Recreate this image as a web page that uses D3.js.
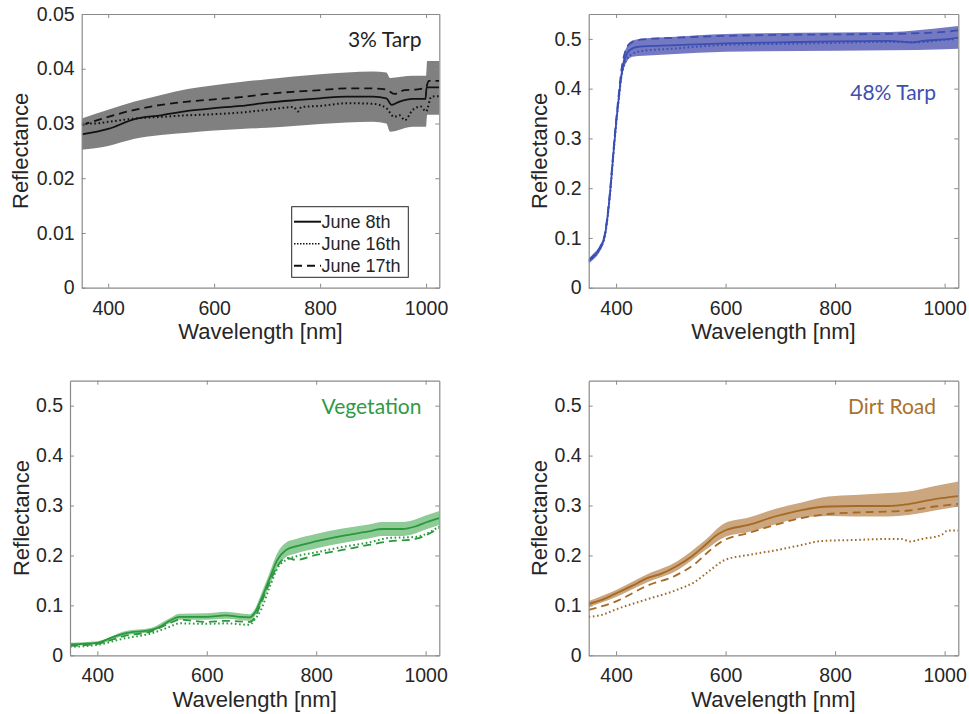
<!DOCTYPE html>
<html>
<head>
<meta charset="utf-8">
<script src="https://cdn.jsdelivr.net/npm/d3@7"></script>
<style>
  body { margin: 0; background: #fff; }
  svg { display: block; }
</style>
</head>
<body>
<svg width="969" height="714"></svg>
<script>
// ---- data: [wavelength nm, reflectance] ----
const tarp3Jun8 = [[350,.0280],[400,.0290],[450,.0308],[500,.0315],[550,.0323],[600,.0328],[650,.0332],[700,.0338],[760,.0343],[800,.0346],[850,.0349],[900,.0349],[925,.0346],[935,.0334],[950,.0340],[975,.0345],[999,.0345],[1001,.0366],[1025,.0366]];
const tarp3Jun16 = [[350,.0300],[375,.0300],[400,.0303],[450,.0309],[500,.0312],[550,.0315],[600,.0317],[650,.0320],[700,.0325],[750,.0330],[758,.0322],[765,.0330],[800,.0332],[850,.0337],[900,.0336],[925,.0328],[940,.0312],[950,.0315],[960,.0306],[975,.0325],[990,.0331],[1000,.0322],[1010,.0349],[1025,.0350]];
const tarp3Jun17 = [[350,.0297],[400,.0312],[450,.0325],[500,.0334],[550,.0340],[600,.0344],[650,.0348],[700,.0354],[750,.0358],[800,.0361],[850,.0364],[900,.0364],[925,.0362],[940,.0354],[960,.0361],[980,.0362],[1000,.0366],[1005,.0378],[1025,.0378]];
// [wavelength, lower, upper]
const tarp3Band = [[350,.0252,.0309],[400,.0259,.0325],[450,.0272,.0340],[500,.0279,.0352],[550,.0283,.0363],[600,.0287,.0370],[650,.0290,.0376],[700,.0292,.0381],[800,.0299,.0390],[900,.0303,.0395],[925,.0300,.0393],[932,.0285,.0383],[975,.0294,.0387],[1000,.0294,.0387],[1002,.0316,.0414],[1025,.0316,.0414]];

const tarp48Jun8 = [[350,.054],[360,.064],[370,.078],[380,.108],[385,.148],[390,.202],[395,.268],[400,.329],[405,.382],[410,.429],[415,.456],[420,.471],[430,.481],[440,.484],[450,.485],[500,.487],[600,.491],[700,.493],[800,.495],[900,.496],[940,.493],[960,.496],[1000,.499],[1025,.502]];
const tarp48Jun16 = [[350,.053],[360,.063],[370,.077],[380,.106],[385,.146],[390,.200],[395,.266],[400,.327],[405,.380],[410,.425],[415,.448],[420,.460],[430,.470],[450,.476],[500,.480],[600,.488],[700,.490],[800,.492],[900,.494],[950,.493],[1000,.498],[1025,.500]];
const tarp48Jun17 = [[350,.055],[360,.066],[370,.080],[380,.111],[385,.152],[390,.207],[395,.274],[400,.336],[405,.390],[410,.440],[415,.468],[420,.484],[430,.494],[450,.499],[500,.502],[600,.506],[700,.508],[800,.509],[900,.510],[1000,.514],[1025,.517]];
const tarp48Band = [[350,.049,.059],[360,.058,.070],[370,.072,.084],[380,.101,.115],[385,.140,.156],[390,.194,.210],[395,.260,.276],[400,.320,.338],[405,.372,.392],[410,.418,.440],[415,.443,.470],[420,.455,.485],[430,.464,.497],[450,.466,.501],[500,.469,.504],[600,.474,.510],[800,.476,.513],[900,.477,.514],[1000,.479,.523],[1025,.480,.526]];

const vegJun8 = [[350,.022],[400,.025],[429,.037],[450,.044],[499,.051],[514,.057],[532,.069],[550,.077],[599,.077],[635,.080],[660,.077],[678,.076],[687,.084],[699,.111],[714,.151],[729,.191],[745,.211],[763,.218],[799,.228],[848,.239],[896,.248],[921,.253],[957,.253],[981,.258],[1000,.266],[1025,.275]];
const vegJun16 = [[350,.017],[400,.021],[450,.034],[499,.044],[532,.057],[550,.064],[599,.063],[635,.064],[678,.061],[687,.071],[699,.091],[714,.134],[729,.174],[745,.191],[763,.198],[799,.206],[848,.217],[896,.226],[933,.235],[981,.237],[1025,.258]];
const vegJun17 = [[350,.019],[400,.023],[450,.039],[499,.048],[532,.064],[550,.071],[599,.067],[635,.069],[678,.067],[687,.074],[699,.104],[714,.144],[729,.178],[745,.195],[763,.191],[799,.201],[848,.211],[896,.221],[933,.228],[981,.233],[1025,.255]];
const vegBand = [[350,.019,.025],[400,.022,.028],[450,.040,.048],[499,.047,.055],[532,.064,.074],[550,.071,.083],[599,.071,.084],[635,.073,.087],[678,.069,.082],[687,.077,.091],[699,.100,.122],[714,.138,.163],[729,.176,.205],[745,.197,.226],[763,.204,.233],[799,.214,.243],[848,.225,.254],[896,.234,.262],[921,.239,.267],[957,.239,.267],[981,.244,.272],[1000,.252,.280],[1025,.261,.289]];

const roadJun8 = [[350,.103],[374,.111],[400,.124],[429,.139],[456,.154],[484,.164],[511,.179],[538,.198],[563,.221],[584,.241],[599,.250],[642,.261],[690,.278],[739,.291],[788,.298],[836,.299],[897,.299],[934,.303],[982,.313],[1025,.319]];
const roadJun16 = [[350,.077],[374,.081],[400,.092],[456,.112],[511,.131],[545,.148],[569,.168],[599,.191],[642,.201],[690,.210],[739,.221],[776,.229],[836,.231],[897,.233],[921,.233],[937,.228],[958,.233],[994,.241],[1006,.250],[1025,.250]];
const roadJun17 = [[350,.091],[400,.108],[456,.139],[511,.161],[545,.184],[569,.208],[593,.228],[642,.245],[690,.261],[739,.275],[788,.283],[836,.286],[897,.288],[934,.290],[982,.298],[1025,.303]];
const roadBand = [[350,.097,.109],[400,.117,.131],[456,.146,.162],[511,.170,.188],[563,.211,.231],[599,.237,.265],[642,.247,.276],[690,.262,.293],[739,.276,.306],[788,.279,.318],[836,.278,.321],[897,.278,.325],[934,.281,.328],[982,.290,.339],[1025,.298,.348]];

const xTicks = [400, 600, 800, 1000];
const yTicksSmall = [0, 0.01, 0.02, 0.03, 0.04, 0.05];
const yTicksLarge = [0, 0.1, 0.2, 0.3, 0.4, 0.5];
const legendLabels = ["June 8th", "June 16th", "June 17th"];

// ---- layout ----
const svg = d3.select("svg");
const tickFont = "'Liberation Sans', Arial, Helvetica, sans-serif";
const titleFont = "Lato, 'Open Sans', sans-serif";

const panels = [
  { box: [81.7, 14, 439.3, 287.7], yDomain: [0, 0.05], yTicks: yTicksSmall, fmt: d => d === 0 ? "0" : d3.format(".2f")(d),
    series: [tarp3Jun8, tarp3Jun16, tarp3Jun17], band: tarp3Band, line: "#111", fill: "#808080",
    title: "3% Tarp", titleColor: "#222", titleX: 421.5, titleY: 47, ylabX: 27.5 },
  { box: [588.7, 14, 958.3, 287.7], yDomain: [0, 0.55], yTicks: yTicksLarge, fmt: d => d === 0 ? "0" : d3.format(".1f")(d),
    series: [tarp48Jun8, tarp48Jun16, tarp48Jun17], band: tarp48Band, line: "#3a4fb3", fill: "#7579c1",
    title: "48% Tarp", titleColor: "#3c50b1", titleX: 936, titleY: 100, ylabX: 547 },
  { box: [70, 380.7, 439.3, 655.3], yDomain: [0, 0.55], yTicks: yTicksLarge, fmt: d => d === 0 ? "0" : d3.format(".1f")(d),
    series: [vegJun8, vegJun16, vegJun17], band: vegBand, line: "#2a983d", fill: "#8fcb97",
    title: "Vegetation", titleColor: "#2f9a46", titleX: 421.5, titleY: 414, ylabX: 29 },
  { box: [588.7, 380.7, 958.3, 655.3], yDomain: [0, 0.55], yTicks: yTicksLarge, fmt: d => d === 0 ? "0" : d3.format(".1f")(d),
    series: [roadJun8, roadJun16, roadJun17], band: roadBand, line: "#a56a25", fill: "#cba67e",
    title: "Dirt Road", titleColor: "#a8722f", titleX: 936, titleY: 414, ylabX: 547 }
];

const dashes = [null, "1.6,2.6", "8,5"];

panels.forEach((p, i) => {
  const [x0, y0, x1, y1] = p.box;
  const x = d3.scaleLinear().domain([350, 1025]).range([x0, x1]);
  const y = d3.scaleLinear().domain(p.yDomain).range([y1, y0]);
  const g = svg.append("g");
  const clipId = "clip" + i;
  svg.append("clipPath").attr("id", clipId)
    .append("rect").attr("x", x0).attr("y", y0).attr("width", x1 - x0).attr("height", y1 - y0);

  const plot = g.append("g").attr("clip-path", `url(#${clipId})`);

  // std band
  plot.append("path")
    .datum(p.band)
    .attr("fill", p.fill)
    .attr("d", d3.area().curve(d3.curveMonotoneX).x(d => x(d[0])).y0(d => y(d[1])).y1(d => y(d[2])));

  // the three dates
  p.series.forEach((s, k) => {
    plot.append("path")
      .datum(s)
      .attr("fill", "none")
      .attr("stroke", p.line)
      .attr("stroke-width", k === 1 ? 2 : 1.8)
      .attr("stroke-dasharray", dashes[k])
      .attr("d", d3.line().curve(d3.curveMonotoneX).x(d => x(d[0])).y(d => y(d[1])));
  });

  // axes, MATLAB style box with inward ticks
  const axisColor = "#8a8a8a";
  const bottom = g.append("g").attr("transform", `translate(0,${y1})`)
    .call(d3.axisBottom(x).tickValues(xTicks).tickSizeInner(-4).tickSizeOuter(0).tickPadding(13).tickFormat(d3.format("d")));
  const top = g.append("g").attr("transform", `translate(0,${y0})`)
    .call(d3.axisTop(x).tickValues(xTicks).tickSizeInner(-4).tickSizeOuter(0).tickFormat(""));
  const left = g.append("g").attr("transform", `translate(${x0},0)`)
    .call(d3.axisLeft(y).tickValues(p.yTicks).tickSizeInner(-4).tickSizeOuter(0).tickPadding(7).tickFormat(p.fmt));
  const right = g.append("g").attr("transform", `translate(${x1},0)`)
    .call(d3.axisRight(y).tickValues(p.yTicks).tickSizeInner(-4).tickSizeOuter(0).tickFormat(""));

  [bottom, top, left, right].forEach(a => {
    a.select(".domain").attr("stroke", axisColor).attr("stroke-width", 1.2);
    a.selectAll(".tick line").attr("stroke", axisColor).attr("stroke-width", 1);
    a.selectAll(".tick text").attr("fill", "#262626").style("font-family", tickFont).style("font-size", "19.5px");
  });

  // axis labels
  g.append("text")
    .attr("x", (x0 + x1) / 2).attr("y", y1 + 51.5)
    .attr("text-anchor", "middle")
    .attr("fill", "#262626")
    .style("font-family", tickFont).style("font-size", "22px")
    .text("Wavelength [nm]");
  g.append("text")
    .attr("transform", `translate(${p.ylabX},${(y0 + y1) / 2}) rotate(-90)`)
    .attr("text-anchor", "middle")
    .attr("fill", "#262626")
    .style("font-family", tickFont).style("font-size", "22px")
    .text("Reflectance");

  // panel title
  g.append("text")
    .attr("x", p.titleX).attr("y", p.titleY)
    .attr("text-anchor", "end")
    .attr("fill", p.titleColor)
    .style("font-family", titleFont).style("font-size", "21px")
    .text(p.title);

  if (p.legend !== undefined || i === 0) {
    const lg = g.append("g");
    lg.append("rect")
      .attr("x", 291.7).attr("y", 206.7).attr("width", 116.6).attr("height", 70.6)
      .attr("fill", "#fff").attr("stroke", "#262626").attr("stroke-width", 1);
    legendLabels.forEach((lab, k) => {
      const cy = 221.7 + k * 22;
      lg.append("line")
        .attr("x1", 294).attr("x2", 321).attr("y1", cy).attr("y2", cy)
        .attr("stroke", "#111").attr("stroke-width", k === 1 ? 1.6 : 2)
        .attr("stroke-dasharray", k === 0 ? null : (k === 1 ? "1.5,1.5" : "8,5"));
      lg.append("text")
        .attr("x", 321.5).attr("y", cy).attr("dy", "0.35em")
        .attr("fill", "#262626")
        .style("font-family", tickFont).style("font-size", "18px")
        .text(lab);
    });
  }
});
</script>
</body>
</html>
